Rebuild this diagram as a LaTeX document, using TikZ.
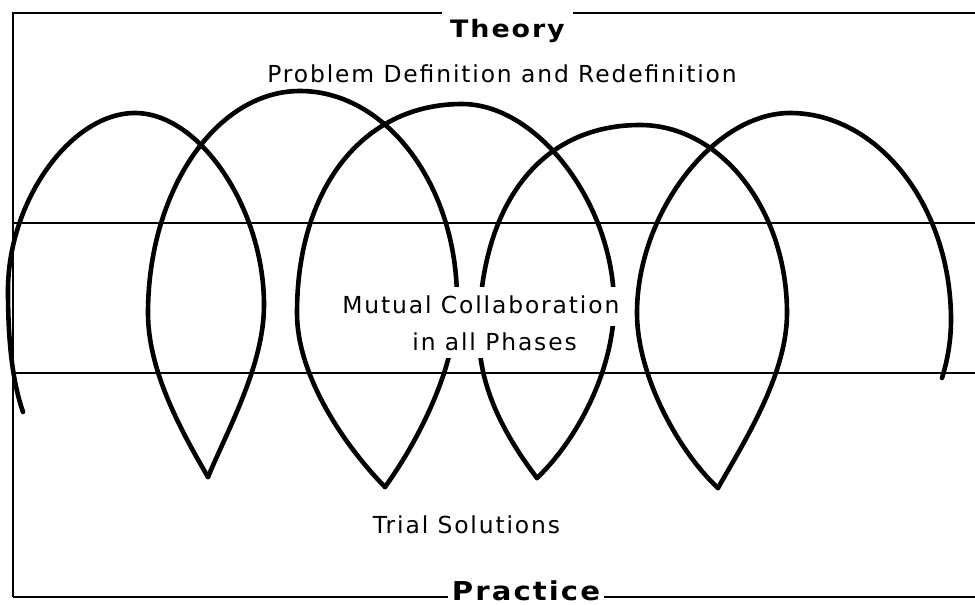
\documentclass[tikz,border=0pt]{standalone}
\usepackage{fontspec}
\newfontfamily\diagfont{DejaVu Sans}[LetterSpace=8.0]
\newfontfamily\headfont{DejaVu Sans Bold}[LetterSpace=8.0, FakeStretch=1.12]
\usetikzlibrary{positioning}

\tikzset{
  frameline/.style={line width=1.1pt},
  spiral/.style={line width=2.3pt, line join=round, line cap=round},
  phase/.style={font=\diagfont\fontsize{11.7}{14}\selectfont, inner xsep=2pt},
  heading/.style={font=\headfont\fontsize{12}{14}\selectfont, inner xsep=4pt},
  gap/.style={phase, fill=white, inner ysep=4pt}
}

\begin{document}
\begin{tikzpicture}[x=0.5pt, y=-0.5pt]
    \useasboundingbox (0,0) rectangle (975,605);
    \coordinate (tl) at (13,13);
    \coordinate (tr) at (975,13);
    \coordinate (bl) at (13,597);
    \coordinate (br) at (975,597);
    \coordinate (ul) at (13,223);
    \coordinate (ur) at (975,223);
    \coordinate (ll) at (13,373);
    \coordinate (lr) at (975,373);

    \node[heading, anchor=base] (theory) at (507.5,37) {Theory};
    \node[phase, anchor=base] (problem) at (502,82) {Problem Definition and Redefinition};
    \node[phase, anchor=base] (trial) at (466.5,533) {Trial Solutions};
    \node[heading, font=\headfont\fontsize{13}{15}\selectfont, inner xsep=2pt, anchor=base] (practice) at (526,600) {Practice};

    \draw[frameline] (bl) -- (tl) -- (theory.west |- tl);
    \draw[frameline] (theory.east |- tl) -- (tr);
    \draw[frameline] (bl) -- (practice.west |- bl);
    \draw[frameline] (practice.east |- bl) -- (br);
    \draw[frameline] (ul) -- (ur);
    \draw[frameline] (ll) -- (lr);

    \draw[spiral] (23,412) .. controls (12,380) and (8,340) .. (8,290)
      .. controls (8,201) and (71,113) .. (135,113)
      .. controls (200,113) and (264,209) .. (264,305)
      .. controls (264,365) and (228,429) .. (208,477);
    \draw[spiral] (208,477) .. controls (180,429) and (148,370) .. (148,313)
      .. controls (148,191) and (216,91) .. (300,91)
      .. controls (386,91) and (457,185) .. (457,300)
      .. controls (457,370) and (414,447) .. (385,487);
    \draw[spiral] (385,487) .. controls (343,444) and (297,375) .. (297,313)
      .. controls (297,188) and (363,104) .. (462,104)
      .. controls (538,104) and (614,205) .. (614,305)
      .. controls (614,370) and (577,440) .. (537,478);
    \draw[spiral] (537,478) .. controls (502,432) and (479,385) .. (479,335)
      .. controls (479,205) and (540,125) .. (640,125)
      .. controls (721,125) and (787,210) .. (787,313)
      .. controls (787,375) and (744,442) .. (718,488);
    \draw[spiral] (718,488) .. controls (678,451) and (637,375) .. (637,313)
      .. controls (637,213) and (714,113) .. (790,113)
      .. controls (878,113) and (951,206) .. (951,320)
      .. controls (951,345) and (946,365) .. (942,378);

    \node[gap, text depth=2.5pt, anchor=base west] (collab) at (338,313) {Mutual Collaboration};
    \node[gap, text depth=0pt, anchor=base west] (phases) at ([xshift=35pt, yshift=-18.5pt]collab.base west) {in all Phases};
\end{tikzpicture}
\end{document}
